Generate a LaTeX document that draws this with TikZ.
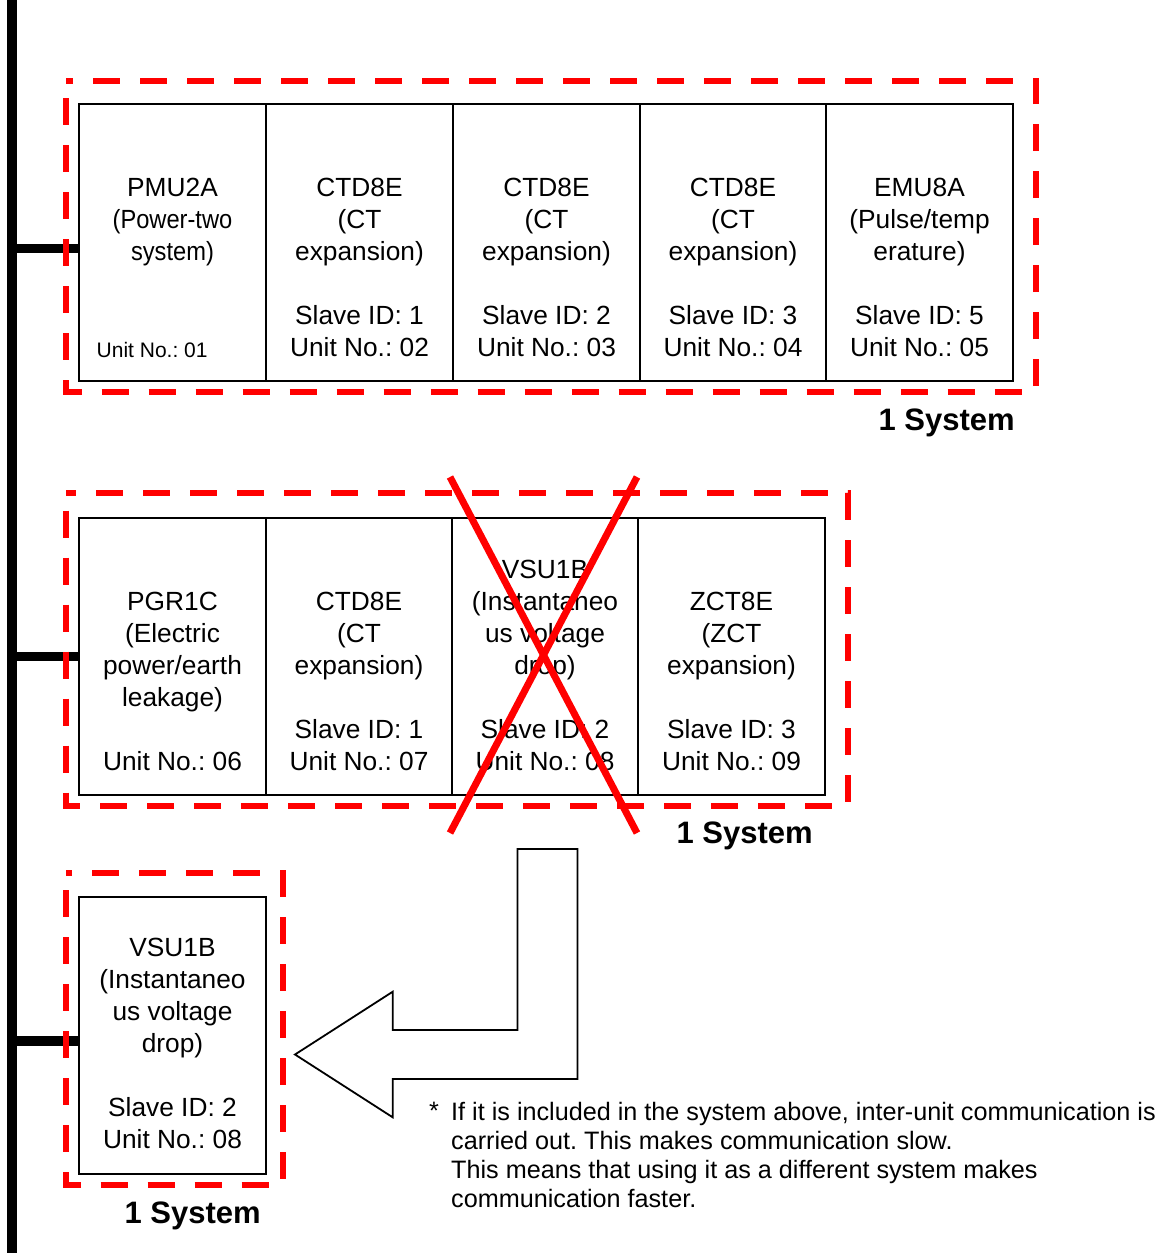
\documentclass[tikz,border=0pt]{standalone}
\usepackage{fontspec}
\setmainfont{Liberation Sans}
\newfontfamily\condfont[FakeStretch=0.9]{Liberation Sans}
\frenchspacing
\begin{document}
\begin{tikzpicture}[x=1pt,y=-1pt,
  unitbox/.style={draw, line width=1.8pt, minimum height=277pt, inner sep=0pt},
  txt/.style={font=\fontsize{26.3}{32}\selectfont, align=center, anchor=north, inner sep=0pt},
  grp/.style={draw=red, line width=6pt, dash pattern=on 27pt off 20pt, dash phase=29.5pt},
  sys/.style={font=\fontsize{31}{36}\selectfont\bfseries, anchor=base east, inner sep=0pt},
  bus/.style={line width=9.5pt},
  xmark/.style={draw=red, line width=7pt},
  bigarrow/.style={draw, line width=1.8pt, fill=white, line join=miter},
  note/.style={font=\fontsize{25.2}{29}\selectfont, align=left, anchor=north west, inner sep=0pt}]
\useasboundingbox (0,0) rectangle (1162,1253);
% bus
\coordinate (bustop) at (12,0);
\coordinate (busbot) at (12,1253);
\draw[bus] (bustop) -- (busbot);
% row 1 boxes
\node[unitbox, minimum width=187pt] (a1) at (172.5,242.5) {};
\node[unitbox, minimum width=187pt] (a2) at (359.5,242.5) {};
\node[unitbox, minimum width=187pt] (a3) at (546.5,242.5) {};
\node[unitbox, minimum width=186pt] (a4) at (733,242.5) {};
\node[unitbox, minimum width=187pt] (a5) at (919.5,242.5) {};
% row 2 boxes
\node[unitbox, minimum width=187pt] (b1) at (172.5,656.5) {};
\node[unitbox, minimum width=186pt] (b2) at (359,656.5) {};
\node[unitbox, minimum width=186pt] (b3) at (545,656.5) {};
\node[unitbox, minimum width=187pt] (b4) at (731.5,656.5) {};
% row 3 box
\node[unitbox, minimum width=187pt] (c1) at (172.5,1035.5) {};
% stubs
\coordinate (s1) at (12,248.5);
\coordinate (s2) at (12,656.5);
\coordinate (s3) at (12,1041);
\draw[bus] (s1) -- (s1 -| a1.west);
\draw[bus] (s2) -- (s2 -| b1.west);
\draw[bus] (s3) -- (s3 -| c1.west);
% group outlines
\draw[grp] (66,80.5) -- (66,391.5) -- (1036,391.5) -- (1036,80.5) -- cycle;
\draw[grp] (66,493) -- (66,805.5) -- (848,805.5) -- (848,493) -- cycle;
\draw[grp] (66,872.5) -- (66,1184.5) -- (282.5,1184.5) -- (282.5,872.5) -- cycle;
% texts row 1
\node[txt] (ta1) at (172.5,178) {PMU2A\\{\condfont (Power-two}\\{\condfont system)}};
\node[anchor=base west, inner sep=0pt, font=\fontsize{21}{25}\selectfont] (ua1) at (96.5,357) {Unit No.: 01};
\node[txt] (ta2) at (359.5,178) {CTD8E\\(CT\\expansion)\\\mbox{}\\Slave ID: 1\\Unit No.: 02};
\node[txt] (ta3) at (546.5,178) {CTD8E\\(CT\\expansion)\\\mbox{}\\Slave ID: 2\\Unit No.: 03};
\node[txt] (ta4) at (733,178) {CTD8E\\(CT\\expansion)\\\mbox{}\\Slave ID: 3\\Unit No.: 04};
\node[txt] (ta5) at (919.5,178) {EMU8A\\(Pulse/temp\\erature)\\\mbox{}\\Slave ID: 5\\Unit No.: 05};
% texts row 2
\node[txt] (tb1) at (172.5,592) {PGR1C\\(Electric\\power/earth\\leakage)\\\mbox{}\\Unit No.: 06};
\node[txt] (tb2) at (359,592) {CTD8E\\(CT\\expansion)\\\mbox{}\\Slave ID: 1\\Unit No.: 07};
\node[txt] (tb3) at (545,560) {VSU1B\\(Instantaneo\\us voltage\\drop)\\\mbox{}\\Slave ID: 2\\Unit No.: 08};
\node[txt] (tb4) at (731.5,592) {ZCT8E\\(ZCT\\expansion)\\\mbox{}\\Slave ID: 3\\Unit No.: 09};
% text row 3
\node[txt] (tc1) at (172.5,938) {VSU1B\\(Instantaneo\\us voltage\\drop)\\\mbox{}\\Slave ID: 2\\Unit No.: 08};
% cross
\coordinate (x1) at (450,477);
\coordinate (x2) at (637,833);
\coordinate (x3) at (637,477);
\coordinate (x4) at (450,833);
\draw[xmark] (x1) -- (x2);
\draw[xmark] (x3) -- (x4);
% system labels
\node[sys] (sy1) at (1015,430) {1 System};
\node[sys] (sy2) at (813,843) {1 System};
\node[sys] (sy3) at (261,1223) {1 System};
% big arrow
\draw[bigarrow] (517.5,849) -- (577.5,849) -- (577.5,1079) -- (392.7,1079) -- (392.7,1117.3) -- (295,1054.5) -- (392.7,991.7) -- (392.7,1030) -- (517.5,1030) -- cycle;
% note
\node[anchor=north west, inner sep=0pt, font=\fontsize{25.2}{29}\selectfont] (star) at (429,1102) {*};
\node[note] (nt) at (451,1102) {If it is included in the system above, inter-unit communication is\\carried out. This makes communication slow.\\This means that using it as a different system makes\\communication faster.};
\end{tikzpicture}
\end{document}
